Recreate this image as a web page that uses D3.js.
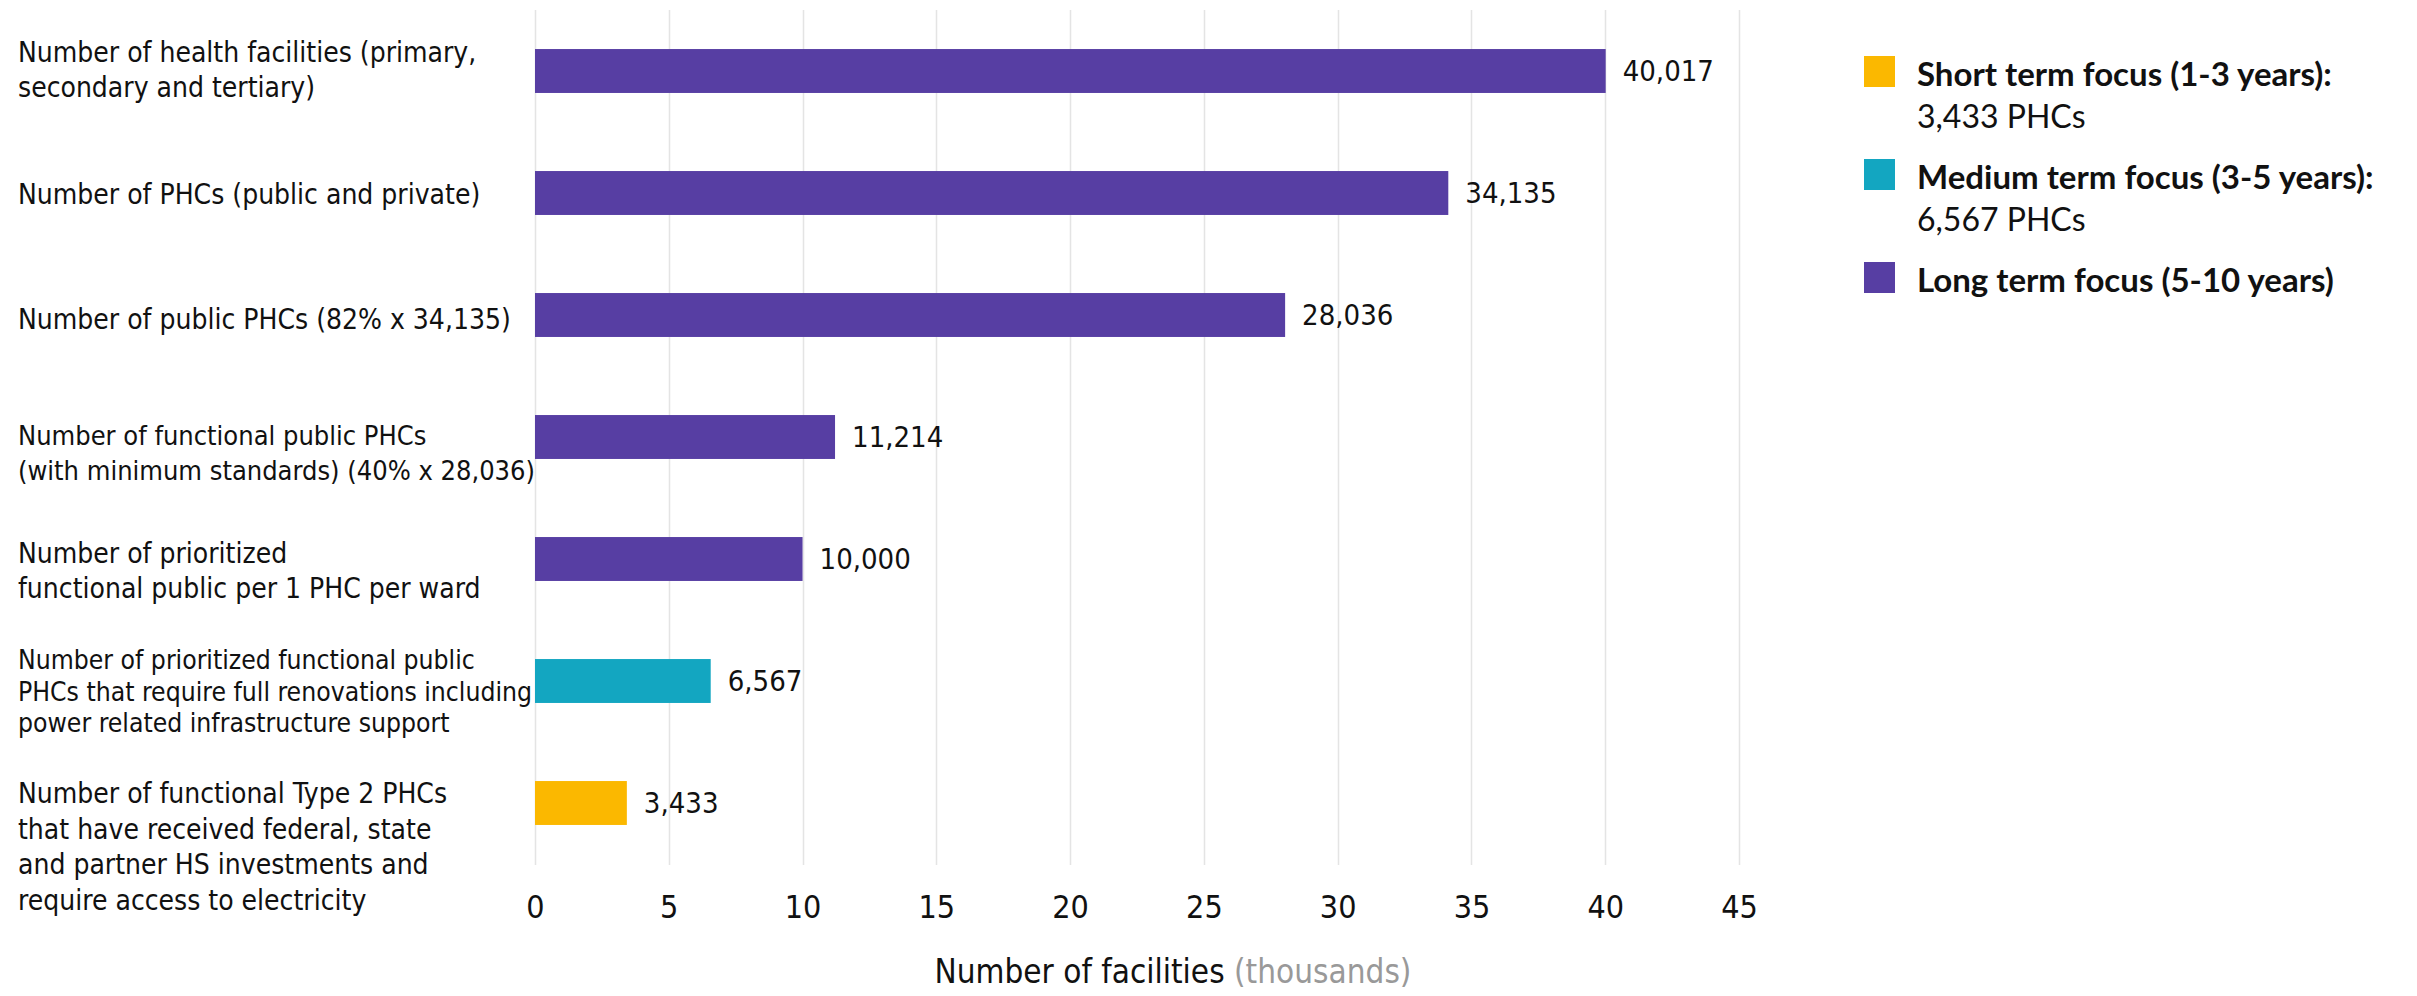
<!DOCTYPE html>
<html>
<head>
<meta charset="utf-8">
<script src="https://cdn.jsdelivr.net/npm/d3@7"></script>
<style>
  body { margin: 0; background: #fff; }
  .chart text { font-family: "Liberation Sans Narrow", "DejaVu Sans Condensed", "Roboto", sans-serif; fill: #111; }
  .chart .legend text { font-family: "Lato", "Open Sans", sans-serif; }
</style>
</head>
<body>
<div class="chart"></div>
<script>
// chart values
const categories = ["health", "phc", "public", "functional", "prioritized", "renovation", "type2"];
const labelLines = [
  ["Number of health facilities (primary,", "secondary and tertiary)"],
  ["Number of PHCs (public and private)"],
  ["Number of public PHCs (82% x 34,135)"],
  ["Number of functional public PHCs", "(with minimum standards) (40% x 28,036)"],
  ["Number of prioritized", "functional public per 1 PHC per ward"],
  ["Number of prioritized functional public", "PHCs that require full renovations including", "power related infrastructure support"],
  ["Number of functional Type 2 PHCs", "that have received federal, state", "and partner HS investments and", "require access to electricity"]
];
const values = [40017, 34135, 28036, 11214, 10000, 6567, 3433];
const focus = ["long", "long", "long", "long", "long", "medium", "short"];
const xTicks = [0, 5, 10, 15, 20, 25, 30, 35, 40, 45];
const legendKeys = ["short", "medium", "long"];
const legendTitles = ["Short term focus (1-3 years):", "Medium term focus (3-5 years):", "Long term focus (5-10 years)"];
const legendNotes = ["3,433 PHCs", "6,567 PHCs", ""];

const width = 2417;
const height = 996;

const colors = d3.scaleOrdinal(legendKeys, ["#fbb800", "#13a6c1", "#573ea3"]);

// label placement tweaks (first baseline offset from band centre, font size, line gap)
const labelShift = [-9, 11, 14, 8, 4, -12, 0];
const labelSize = [28, 28, 28, 27, 28, 26.3, 28];
const labelGap = [34.5, 34.5, 34.5, 34.5, 34.5, 31.5, 35.5];

const svg = d3.select(".chart")
  .append("svg")
  .attr("width", width)
  .attr("height", height);

const x = d3.scaleLinear([0, 45], [535, 1739]);
const y = d3.scaleBand(categories, [10, 864]).paddingInner(0.64).paddingOuter(0.32);

// gridlines
svg.append("g")
  .selectAll("line")
  .data(xTicks)
  .join("line")
  .attr("x1", d => Math.round(x(d)) + 0.5)
  .attr("x2", d => Math.round(x(d)) + 0.5)
  .attr("y1", 10)
  .attr("y2", 865)
  .attr("stroke", "#e4e4e4")
  .attr("stroke-width", 1.5);

// x axis
const axis = svg.append("g")
  .attr("transform", "translate(0,865)")
  .call(d3.axisBottom(x).tickValues(xTicks).tickSize(0).tickFormat(d3.format("d")));
axis.select(".domain").remove();
axis.selectAll("text")
  .attr("y", 53)
  .attr("dy", null)
  .attr("font-size", 32)
  .attr("font-family", null)
  .style("fill", "#111");

// bars
svg.append("g")
  .selectAll("rect")
  .data(values)
  .join("rect")
  .attr("x", x(0))
  .attr("y", (d, i) => y(categories[i]))
  .attr("width", d => x(d / 1000) - x(0))
  .attr("height", y.bandwidth())
  .attr("fill", (d, i) => colors(focus[i]));

// value labels
svg.append("g")
  .selectAll("text")
  .data(values)
  .join("text")
  .attr("x", d => x(d / 1000) + 17)
  .attr("y", (d, i) => y(categories[i]) + y.bandwidth() / 2 + 10)
  .attr("font-size", 29)
  .attr("font-weight", 500)
  .text(d => d3.format(",")(d));

// category labels
const label = svg.append("g")
  .selectAll("text")
  .data(labelLines)
  .join("text")
  .attr("x", 18)
  .attr("y", (d, i) => y(categories[i]) + y.bandwidth() / 2 + labelShift[i])
  .attr("font-size", (d, i) => labelSize[i])
  .attr("font-weight", 300);

label.each(function(lines, i) {
  d3.select(this).selectAll("tspan")
    .data(lines)
    .join("tspan")
    .attr("x", 18)
    .attr("dy", (d, j) => j === 0 ? 0 : labelGap[i])
    .text(d => d);
});

// axis title
const title = svg.append("text")
  .attr("x", 1173)
  .attr("y", 983)
  .attr("text-anchor", "middle")
  .attr("font-size", 33)
  .attr("font-weight", 300);
title.append("tspan").text("Number of facilities ");
title.append("tspan").style("fill", "#999").text("(thousands)");

// legend
const legend = svg.append("g")
  .attr("class", "legend")
  .selectAll("g")
  .data(legendKeys)
  .join("g")
  .attr("transform", (d, i) => `translate(1864,${[56, 159, 262][i]})`);

legend.append("rect")
  .attr("width", 31)
  .attr("height", 31)
  .attr("fill", d => colors(d));

legend.append("text")
  .attr("x", 53)
  .attr("y", 30)
  .attr("font-size", 33)
  .attr("font-weight", 700)
  .text((d, i) => legendTitles[i]);

legend.append("text")
  .attr("x", 53)
  .attr("y", 72)
  .attr("font-size", 32)
  .text((d, i) => legendNotes[i]);
</script>
</body>
</html>
